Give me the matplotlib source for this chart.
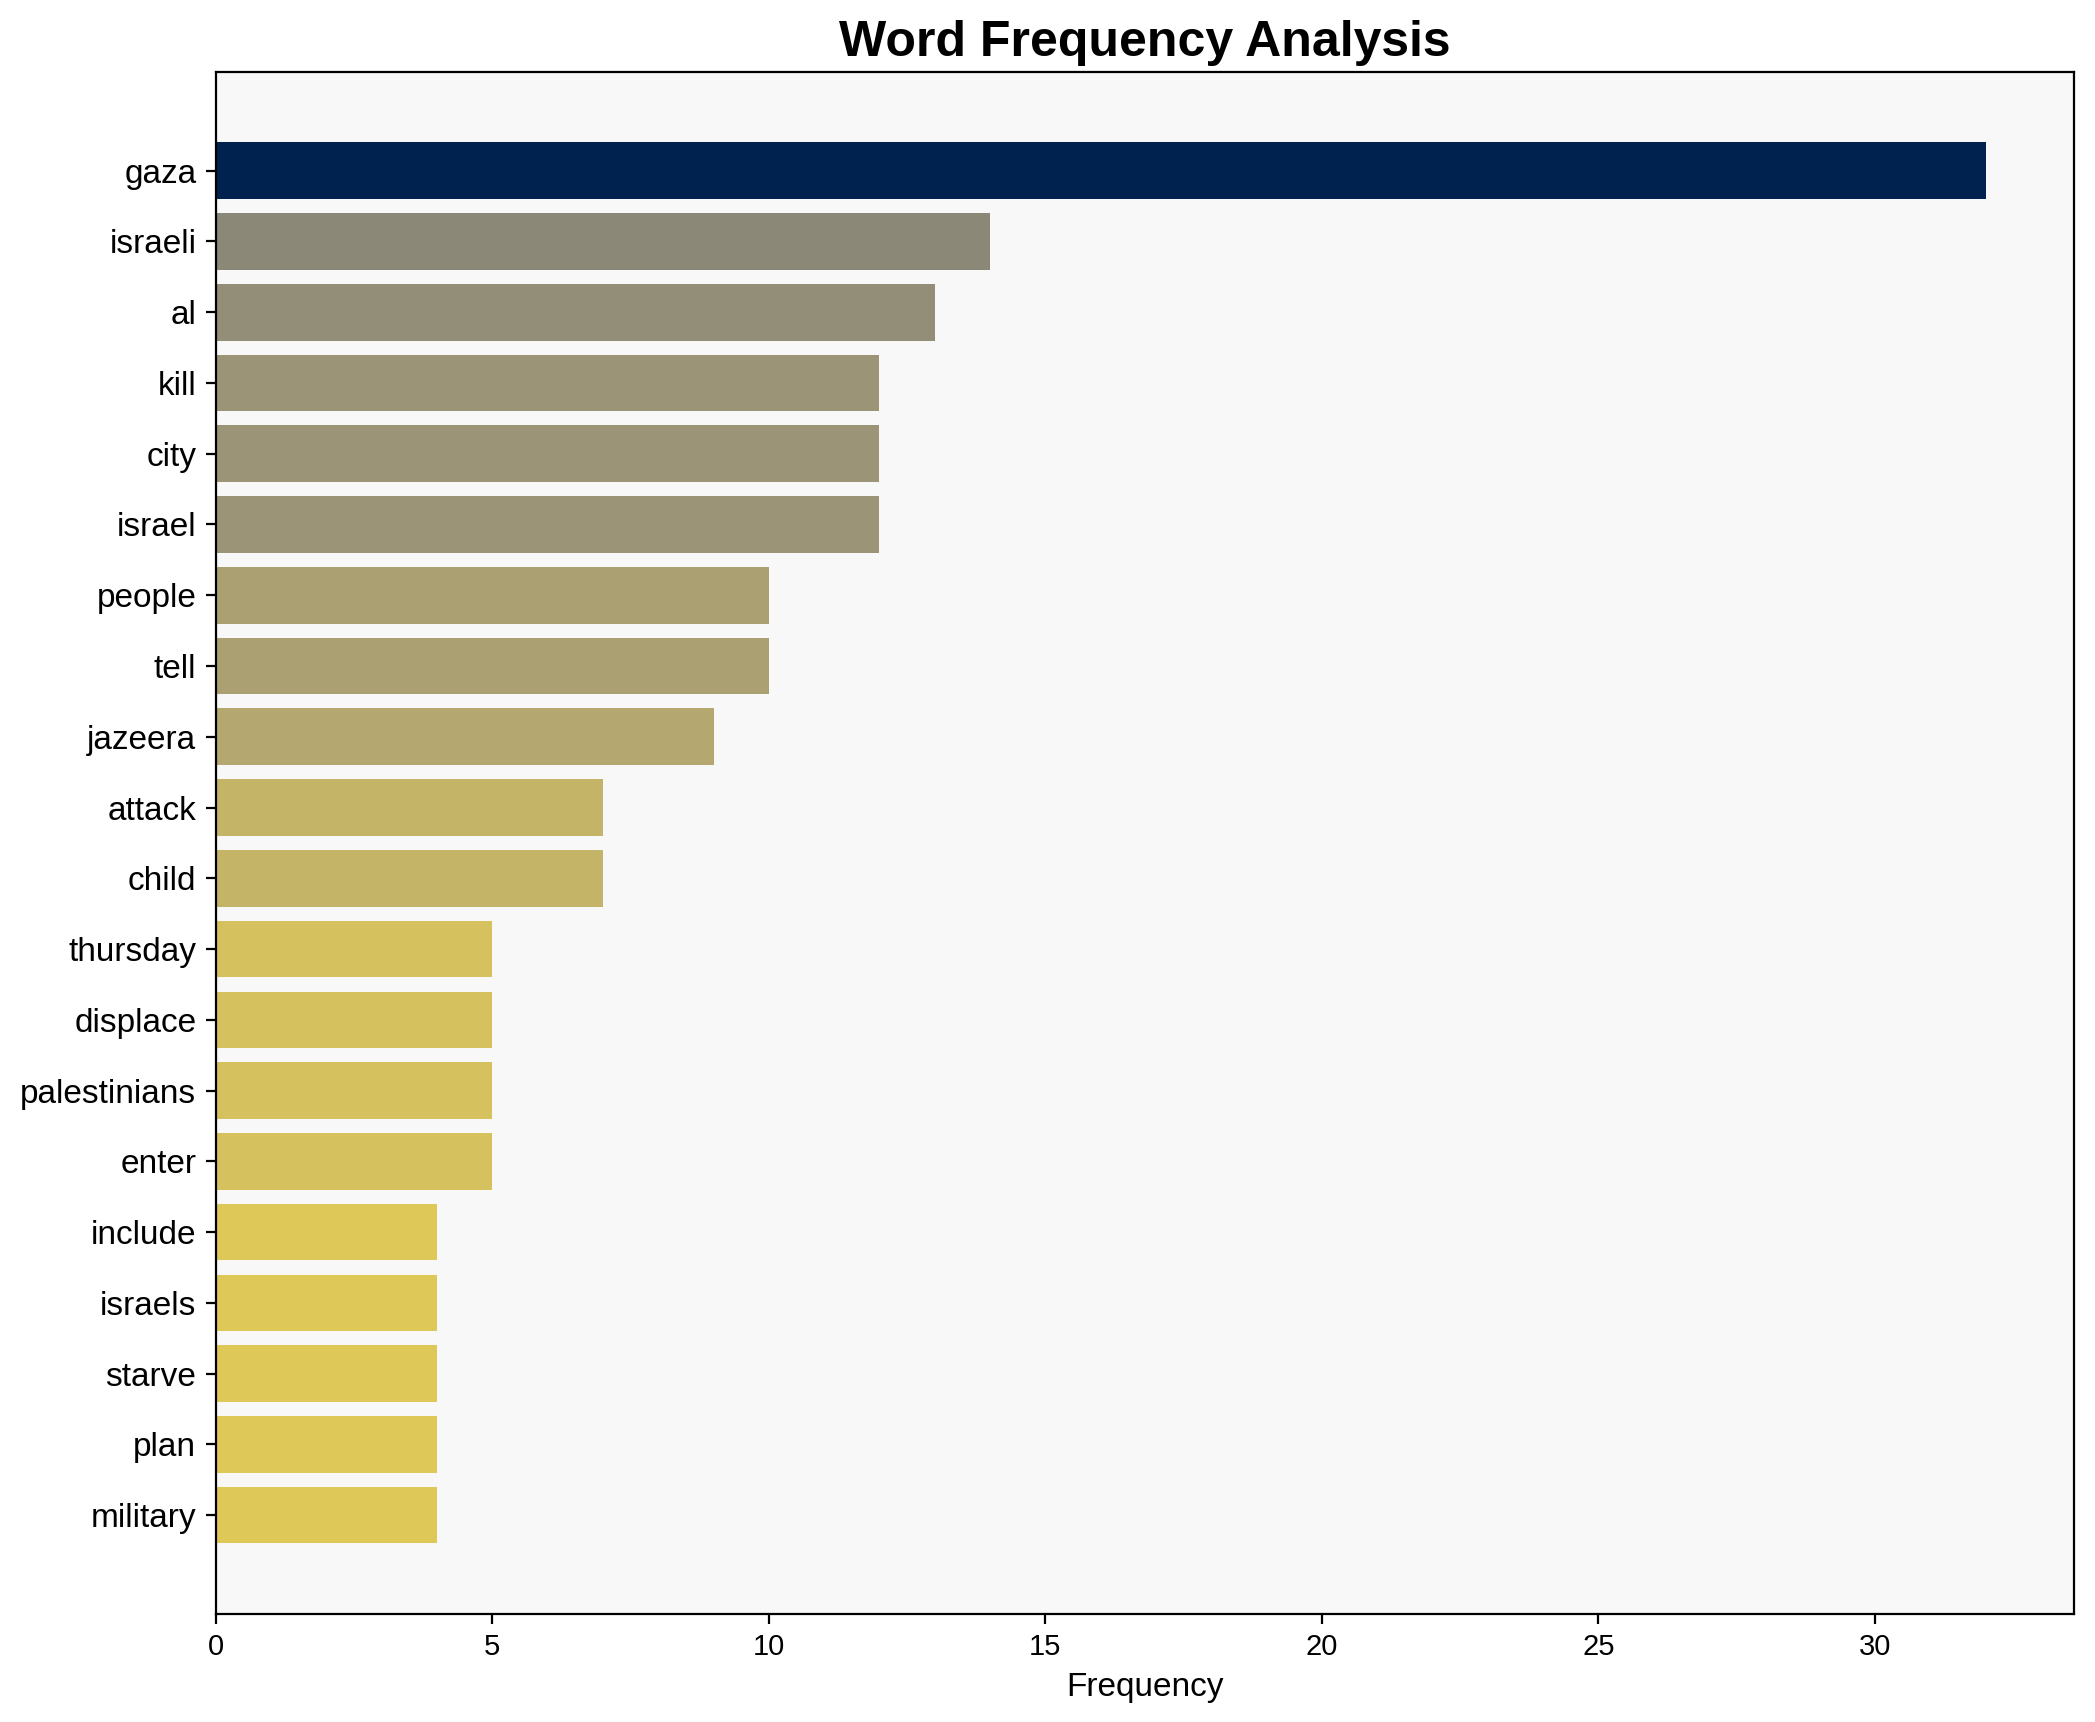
import matplotlib
matplotlib.use("Agg")
import matplotlib.pyplot as plt
import numpy as np

plt.rcParams['font.family'] = ['Liberation Sans', 'DejaVu Sans']

words = ["gaza", "israeli", "al", "kill", "city", "israel", "people", "tell",
         "jazeera", "attack", "child", "thursday", "displace", "palestinians",
         "enter", "include", "israels", "starve", "plan", "military"]
counts = [32, 14, 13, 12, 12, 12, 10, 10, 9, 7, 7, 5, 5, 5, 5, 4, 4, 4, 4, 4]

counts_arr = np.array(counts)
colors = plt.cm.cividis(1 - counts_arr / counts_arr.max())

fig, ax = plt.subplots(figsize=(10.475, 8.61), dpi=200)
ax.barh(words, counts, color=colors)
ax.invert_yaxis()
ax.set_facecolor('#f8f8f8')

ax.set_title("Word Frequency Analysis", fontsize=18, fontweight='bold')
ax.set_xlabel("Frequency", fontsize=12)
ax.tick_params(axis='y', labelsize=12)
ax.tick_params(axis='x', labelsize=10.5)

fig.subplots_adjust(left=0.103, right=0.990, top=0.958, bottom=0.063)
plt.savefig("out.png", dpi=200)
